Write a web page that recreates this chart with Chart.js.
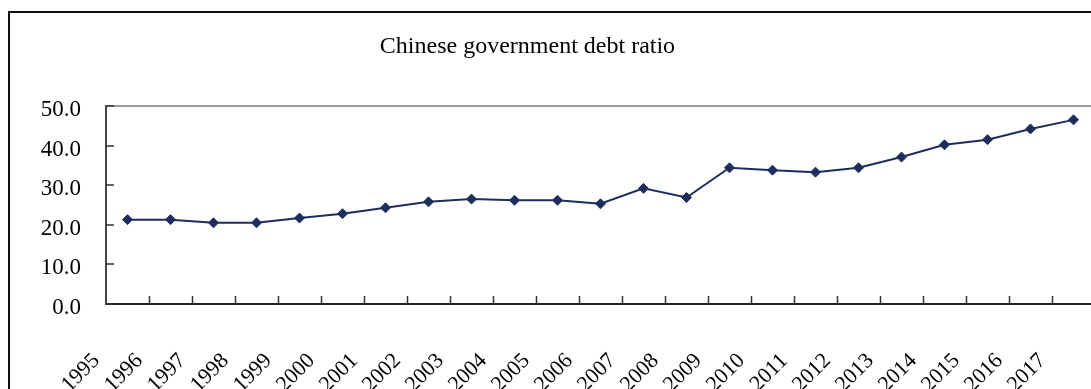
<!DOCTYPE html>
<html>
<head>
<meta charset="utf-8">
<script src="https://cdn.jsdelivr.net/npm/chart.js@4/dist/chart.umd.min.js"></script>
<style>
  html, body { margin: 0; padding: 0; background: #fff; overflow: hidden; }
  #wrap { position: relative; width: 1091px; height: 389px; overflow: hidden; }
  #title {
    position: absolute; left: 0; top: 33px; width: 1055px;
    text-align: center; font: 24px/24px "Liberation Serif", "Times New Roman", serif; color: #000;
  }
  canvas { position: absolute; left: 0; top: 0; }
</style>
</head>
<body>
<div id="wrap">
  <canvas id="debtChart" width="1101" height="389"></canvas>
  <div id="title">Chinese government debt ratio</div>
</div>
<script>
// data
const years = ['1995', '1996', '1997', '1998', '1999', '2000', '2001', '2002', '2003', '2004', '2005', '2006',
  '2007', '2008', '2009', '2010', '2011', '2012', '2013', '2014', '2015', '2016', '2017'];
const debtRatio = [21.3, 21.3, 20.5, 20.5, 21.7, 22.8, 24.3, 25.8, 26.5, 26.2, 26.2, 25.3,
  29.2, 26.9, 34.4, 33.8, 33.3, 34.4, 37.1, 40.2, 41.5, 44.2, 46.5];
const yTicks = [0, 10, 20, 30, 40, 50];

const navy = '#1F2D5E';

// outer frame, top border of the plot and the inward tick marks
const framePlugin = {
  id: 'frame',
  beforeDraw(chart) {
    const ctx = chart.ctx;
    ctx.save();
    ctx.strokeStyle = '#111';
    ctx.lineWidth = 2;
    ctx.strokeRect(9, 12, 2000, 1000);
    ctx.restore();
  },
  afterDatasetsDraw(chart) {
    const ctx = chart.ctx;
    const a = chart.chartArea;
    const x = chart.scales.x;
    const y = chart.scales.y;
    ctx.save();
    ctx.strokeStyle = '#999';
    ctx.lineWidth = 2;
    ctx.beginPath();
    ctx.moveTo(a.left, a.top);
    ctx.lineTo(a.right, a.top);
    ctx.stroke();

    ctx.strokeStyle = '#333';
    ctx.lineWidth = 1.5;
    ctx.beginPath();
    yTicks.forEach(v => {
      const py = Math.round(y.getPixelForValue(v));
      ctx.moveTo(a.left, py);
      ctx.lineTo(a.left + 8, py);
    });
    for (let i = 1; i <= years.length; i++) {
      const px = Math.round(x.getPixelForValue(i - 0.5)) + 0.5;
      ctx.moveTo(px, a.bottom);
      ctx.lineTo(px, a.bottom - 8);
    }
    ctx.stroke();
    ctx.restore();
  }
};

new Chart(document.getElementById('debtChart'), {
  type: 'line',
  data: {
    labels: years,
    datasets: [{
      label: 'Chinese government debt ratio',
      data: debtRatio,
      borderColor: navy,
      borderWidth: 2,
      backgroundColor: navy,
      pointStyle: 'rectRot',
      pointRadius: 5,
      pointBorderWidth: 1,
      pointBorderColor: navy,
      pointBackgroundColor: navy,
      tension: 0
    }]
  },
  options: {
    responsive: false,
    animation: false,
    devicePixelRatio: 1,
    layout: { padding: { top: 106, left: 0, right: 0, bottom: 0 } },
    plugins: {
      legend: { display: false },
      title: { display: false },
      tooltip: { enabled: false }
    },
    scales: {
      x: {
        type: 'category',
        offset: true,
        grid: { display: false, drawTicks: false },
        border: { display: true, color: '#222', width: 2 },
        ticks: {
          autoSkip: false,
          minRotation: 45,
          maxRotation: 45,
          padding: 44,
          labelOffset: -31,
          color: '#000',
          font: { family: '"Liberation Serif", "Times New Roman", serif', size: 22 }
        },
        afterFit(scale) {
          scale.height = 85;
          scale.paddingLeft = 0;
          scale.paddingRight = 0;
        }
      },
      y: {
        min: 0,
        max: 50,
        grid: { display: false, drawTicks: false },
        border: { display: true, color: '#444', width: 2 },
        ticks: {
          stepSize: 10,
          padding: 25,
          labelOffset: 4,
          color: '#000',
          font: { family: '"Liberation Serif", "Times New Roman", serif', size: 23 },
          callback: v => v.toFixed(1)
        },
        afterFit(scale) { scale.width = 106; }
      }
    }
  },
  plugins: [framePlugin]
});
</script>
</body>
</html>
